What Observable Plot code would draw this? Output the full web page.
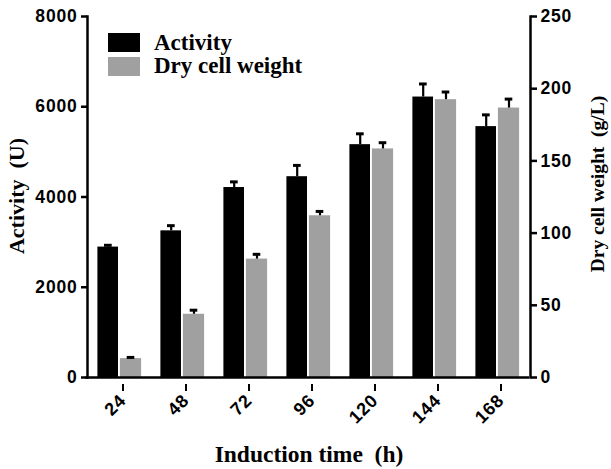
<!DOCTYPE html>
<html>
<head>
<meta charset="utf-8">
<script src="https://cdn.jsdelivr.net/npm/d3@7"></script>
<script src="https://cdn.jsdelivr.net/npm/@observablehq/plot@0.6"></script>
<style>
  html, body { margin: 0; padding: 0; background: #fff; }
  #chart { position: relative; width: 611px; height: 469px; }
</style>
</head>
<body>
<div id="chart"></div>
<script>
const times = ["24", "48", "72", "96", "120", "144", "168"];
const activity = [2890, 3250, 4210, 4450, 5160, 6215, 5560];
const activityErr = [40, 115, 125, 250, 240, 290, 260];
const dryCellWeight = [13.1, 43.8, 82.0, 112.0, 158.3, 192.4, 186.6];
const dryCellWeightErr = [0.8, 2.8, 3.3, 3.0, 4.3, 5.3, 6.2];
const leftTicks = [0, 2000, 4000, 6000, 8000];
const rightTicks = [0, 50, 100, 150, 200, 250];
const seriesNames = ["Activity", "Dry cell weight"];
const seriesColors = ["#000000", "#a0a0a0"];

const ratio = 8000 / 250; // right axis mapped onto left scale

const rows = times.map((t, i) => ({
  t,
  act: activity[i],
  actTop: activity[i] + activityErr[i],
  dcw: dryCellWeight[i] * ratio,
  dcwTop: (dryCellWeight[i] + dryCellWeightErr[i]) * ratio
}));

const W = 611, H = 469;

const plot = Plot.plot({
  width: W,
  height: H,
  marginLeft: 85.5,
  marginRight: 82,
  marginTop: 16,
  marginBottom: 92,
  style: { fontFamily: "'Liberation Sans', Arial, sans-serif", background: "#fff", overflow: "visible" },
  x: { domain: times, padding: 0, label: null },
  y: { domain: [0, 8000], label: null },
  marks: [
    // bars
    Plot.barY(rows, { x: "t", y: "act", fill: seriesColors[0], insetLeft: 10.4, insetRight: 32 }),
    Plot.barY(rows, { x: "t", y: "dcw", fill: seriesColors[1], insetLeft: 32.9, insetRight: 8.9 }),
    // error bars: activity
    Plot.ruleX(rows, { x: "t", y1: "act", y2: "actTop", dx: -10.8, stroke: "#000", strokeWidth: 2.2 }),
    Plot.tickY(rows, { x: "t", y: "actTop", stroke: "#000", strokeWidth: 3, insetLeft: 17, insetRight: 38.3 }),
    // error bars: dry cell weight
    Plot.ruleX(rows, { x: "t", y1: "dcw", y2: "dcwTop", dx: 12, stroke: "#000", strokeWidth: 2.2 }),
    Plot.tickY(rows, { x: "t", y: "dcwTop", stroke: "#000", strokeWidth: 3, insetLeft: 39.7, insetRight: 15.7 }),
    // axis lines
    Plot.ruleY([0], { stroke: "#000", strokeWidth: 2.5 }),
    Plot.axisX({
      tickSize: 7, tickPadding: 6, tickRotate: -45, stroke: "#000", strokeWidth: 2,
      fontSize: 18, fontWeight: "bold", fill: "#000", label: null, textAnchor: "end", dy: 7, dx: 4
    }),
    Plot.axisY({
      anchor: "left", ticks: leftTicks, tickSize: 6, tickPadding: 4, dx: 1.5, stroke: "#000", strokeWidth: 2.5,
      fontSize: 17.5, fontWeight: "bold", fill: "#000", label: null, tickFormat: d => String(d)
    }),
    Plot.axisY({
      anchor: "right", ticks: rightTicks.map(v => v * ratio), tickSize: 6, tickPadding: 4, dx: 1, stroke: "#000", strokeWidth: 2.5,
      fontSize: 17.5, fontWeight: "bold", fill: "#000", label: null, tickFormat: d => String(Math.round(d / ratio))
    }),
    Plot.frame({ anchor: "left", stroke: "#000", strokeWidth: 2.5, dx: 1.5 }),
    Plot.frame({ anchor: "right", stroke: "#000", strokeWidth: 2.5, dx: 1 })
  ]
});

const svg = d3.select(plot);
svg.selectAll("text").style("letter-spacing", "0.8px");
const serif = "'Liberation Serif', 'Times New Roman', serif";

// Axis titles
svg.append("text")
  .attr("transform", "translate(24,196) rotate(-90)")
  .attr("text-anchor", "middle")
  .style("font", `bold 22px ${serif}`)
  .attr("xml:space", "preserve")
  .text("Activity  (U)");
svg.append("text")
  .attr("transform", "translate(604,184) rotate(-90)")
  .attr("text-anchor", "middle")
  .style("font", `bold 19.5px ${serif}`)
  .attr("xml:space", "preserve")
  .text("Dry cell weight  (g/L)");
svg.append("text")
  .attr("x", 309).attr("y", 462)
  .attr("text-anchor", "middle")
  .style("font", `bold 23.5px ${serif}`)
  .attr("xml:space", "preserve")
  .text("Induction time  (h)");

// Legend
const leg = svg.append("g").attr("text-anchor", "start");
seriesNames.forEach((name, i) => {
  leg.append("rect")
    .attr("x", 108).attr("y", 33 + i * 24)
    .attr("width", 32).attr("height", 19)
    .attr("fill", seriesColors[i]);
  leg.append("text")
    .attr("x", 154).attr("y", 50 + i * 23)
    .attr("text-anchor", "start")
    .style("font", `bold 23px ${serif}`)
    .text(name);
});

document.getElementById("chart").appendChild(plot);
</script>
</body>
</html>
